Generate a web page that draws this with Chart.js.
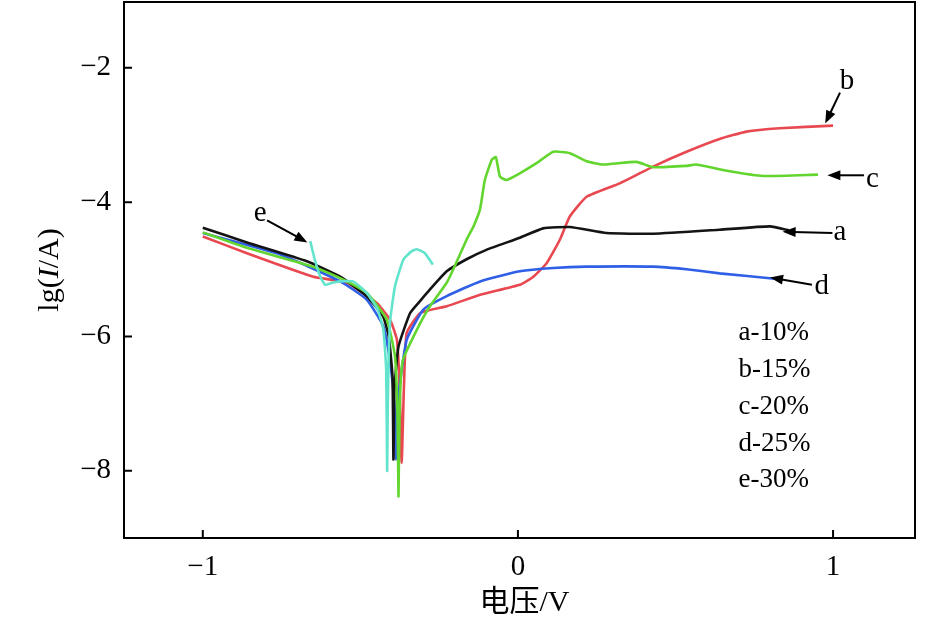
<!DOCTYPE html>
<html>
<head>
<meta charset="utf-8">
<script src="https://cdn.jsdelivr.net/npm/chart.js@4/dist/chart.umd.min.js"></script>
<style>
  html, body { margin: 0; padding: 0; background: #fff; }
  #wrap { width: 945px; height: 627px; position: relative; }
</style>
</head>
<body>
<div id="wrap"><canvas id="c"></canvas></div>
<script>
// tick values
const xTicks = [-1, 0, 1];
const yTicks = [-8, -6, -4, -2];

// a - 10%
const aV = [-1, -0.86, -0.67, -0.564, -0.48, -0.428, -0.41, -0.398, -0.395, -0.392, -0.379, -0.342, -0.31, -0.279, -0.226, -0.163, -0.1, 0.006, 0.08, 0.165, 0.281, 0.43, 0.64, 0.80, 0.86];
const aLg = [-4.38, -4.6, -4.88, -5.11, -5.40, -5.70, -6.0, -6.6, -7.83, -6.8, -6.15, -5.65, -5.47, -5.30, -5.03, -4.85, -4.71, -4.53, -4.39, -4.37, -4.46, -4.47, -4.41, -4.36, -4.42];

// b - 15%
const bV = [-1, -0.86, -0.649, -0.543, -0.448, -0.406, -0.384, -0.375, -0.369, -0.362, -0.353, -0.31, -0.226, -0.12, 0.006, 0.049, 0.091, 0.133, 0.165, 0.218, 0.323, 0.429, 0.535, 0.64, 0.725, 0.83, 1.0];
const bLg = [-4.51, -4.76, -5.11, -5.20, -5.50, -5.75, -6.05, -6.8, -7.88, -6.8, -5.95, -5.65, -5.55, -5.38, -5.23, -5.11, -4.91, -4.56, -4.21, -3.92, -3.72, -3.47, -3.25, -3.06, -2.95, -2.90, -2.86];

// c - 20%
const cV = [-1, -0.86, -0.65, -0.564, -0.48, -0.416, -0.39, -0.382, -0.379, -0.375, -0.365, -0.31, -0.279, -0.226, -0.205, -0.163, -0.14, -0.12, -0.105, -0.083, -0.07, -0.057, -0.036, 0.006, 0.059, 0.112, 0.165, 0.218, 0.27, 0.376, 0.429, 0.535, 0.566, 0.672, 0.778, 0.952];
const cLg = [-4.45, -4.68, -4.96, -5.13, -5.35, -5.75, -6.3, -7.2, -8.38, -7.0, -6.35, -5.8, -5.55, -5.2, -5.0, -4.56, -4.35, -4.1, -3.67, -3.37, -3.33, -3.62, -3.67, -3.57, -3.42, -3.25, -3.27, -3.39, -3.44, -3.40, -3.48, -3.46, -3.44, -3.54, -3.61, -3.59];

// d - 25%
const dV = [-1, -0.754, -0.564, -0.48, -0.427, -0.405, -0.392, -0.387, -0.382, -0.353, -0.3, -0.226, -0.12, 0.006, 0.112, 0.218, 0.429, 0.535, 0.64, 0.815];
const dLg = [-4.46, -4.78, -5.18, -5.45, -5.85, -6.4, -7.0, -7.83, -7.0, -6.05, -5.60, -5.40, -5.18, -5.03, -4.98, -4.96, -4.96, -5.0, -5.06, -5.14];

// e - 30%
const eV = [-0.659, -0.645, -0.628, -0.612, -0.59, -0.564, -0.523, -0.48, -0.445, -0.427, -0.418, -0.415, -0.413, -0.41, -0.405, -0.39, -0.364, -0.34, -0.321, -0.295, -0.27];
const eLg = [-4.58, -4.85, -5.1, -5.23, -5.2, -5.18, -5.18, -5.35, -5.6, -5.9, -6.5, -8.0, -7.0, -6.3, -5.75, -5.25, -4.86, -4.74, -4.70, -4.76, -4.93];

const legendLines = ['a-10%', 'b-15%', 'c-20%', 'd-25%', 'e-30%'];

const pts = (xs, ys) => xs.map((v, i) => ({ x: v, y: ys[i] }));
const minus = v => (v < 0 ? '\u2212' + Math.abs(v) : String(v));
const SERIF = '"Liberation Serif", "Times New Roman", serif';

function line(data, color) {
  return { data, borderColor: color, borderWidth: 2.6, pointRadius: 0, showLine: true, tension: 0.15, fill: false };
}

function arrow(ctx, x1, y1, x2, y2) {
  const ang = Math.atan2(y2 - y1, x2 - x1);
  const hl = 13, hw = 5;
  ctx.beginPath();
  ctx.moveTo(x1, y1);
  ctx.lineTo(x2 - hl * Math.cos(ang) * 0.8, y2 - hl * Math.sin(ang) * 0.8);
  ctx.stroke();
  ctx.beginPath();
  ctx.moveTo(x2, y2);
  ctx.lineTo(x2 - hl * Math.cos(ang) + hw * Math.sin(ang), y2 - hl * Math.sin(ang) - hw * Math.cos(ang));
  ctx.lineTo(x2 - hl * Math.cos(ang) - hw * Math.sin(ang), y2 - hl * Math.sin(ang) + hw * Math.cos(ang));
  ctx.closePath();
  ctx.fill();
}

const decor = {
  id: 'decor',
  afterDraw(chart) {
    const { ctx, chartArea: ca, scales: { x, y } } = chart;
    ctx.save();
    ctx.strokeStyle = '#000';
    ctx.fillStyle = '#000';
    ctx.lineWidth = 2;
    ctx.strokeRect(ca.left, ca.top, ca.right - ca.left, ca.bottom - ca.top);
    // inward ticks
    ctx.beginPath();
    xTicks.forEach(v => { const px = x.getPixelForValue(v); ctx.moveTo(px, ca.bottom); ctx.lineTo(px, ca.bottom - 8); });
    yTicks.forEach(v => { const py = y.getPixelForValue(v); ctx.moveTo(ca.left, py); ctx.lineTo(ca.left + 8, py); });
    ctx.stroke();

    // curve letters + arrows (data coordinates)
    const tags = [
      { t: 'b', at: [1.044, -2.2], from: [1.022, -2.37], to: [0.975, -2.83] },
      { t: 'c', at: [1.125, -3.66], from: [1.098, -3.60], to: [0.982, -3.60] },
      { t: 'a', at: [1.022, -4.45], from: [0.998, -4.46], to: [0.84, -4.44] },
      { t: 'd', at: [0.964, -5.25], from: [0.933, -5.23], to: [0.80, -5.12] },
      { t: 'e', at: [-0.818, -4.17], from: [-0.796, -4.27], to: [-0.668, -4.60] }
    ];
    ctx.lineWidth = 2;
    ctx.font = '29px ' + SERIF;
    ctx.textAlign = 'center';
    ctx.textBaseline = 'middle';
    tags.forEach(g => {
      ctx.fillText(g.t, x.getPixelForValue(g.at[0]), y.getPixelForValue(g.at[1]));
      arrow(ctx, x.getPixelForValue(g.from[0]), y.getPixelForValue(g.from[1]),
        x.getPixelForValue(g.to[0]), y.getPixelForValue(g.to[1]));
    });

    // concentration list
    ctx.font = '27px ' + SERIF;
    ctx.textAlign = 'left';
    legendLines.forEach((s, i) => {
      ctx.fillText(s, x.getPixelForValue(0.7), y.getPixelForValue(-5.95 - i * 0.548));
    });

    // axis titles
    ctx.textAlign = 'center';
    ctx.font = '30px ' + SERIF + ', "Noto Sans CJK SC"';
    ctx.fillText('电压/V', (ca.left + ca.right) / 2 + 5, 603);

    ctx.translate(50, 270);
    ctx.rotate(-Math.PI / 2);
    const parts = [['lg(', ''], ['I', 'italic '], ['/A)', '']];
    let w = 0;
    parts.forEach(p => { ctx.font = p[1] + '30px ' + SERIF; w += ctx.measureText(p[0]).width; });
    let cx = -w / 2;
    ctx.textAlign = 'left';
    parts.forEach(p => {
      ctx.font = p[1] + '30px ' + SERIF;
      ctx.fillText(p[0], cx, 0);
      cx += ctx.measureText(p[0]).width;
    });
    ctx.restore();
  }
};

new Chart(document.getElementById('c'), {
  type: 'scatter',
  data: {
    datasets: [
      line(pts(eV, eLg), '#62e4cc'),
      line(pts(cV, cLg), '#62d62e'),
      line(pts(aV, aLg), '#141414'),
      line(pts(dV, dLg), '#2f5fe6'),
      line(pts(bV, bLg), '#e8484f')
    ]
  },
  options: {
    responsive: true,
    maintainAspectRatio: false,
    animation: false,
    layout: { padding: { top: 2, right: 30, left: 0, bottom: 0 } },
    plugins: { legend: { display: false }, tooltip: { enabled: false } },
    scales: {
      x: {
        type: 'linear', min: -1.25, max: 1.26,
        afterBuildTicks: s => { s.ticks = xTicks.map(v => ({ value: v })); },
        afterFit: s => { s.height = 89; s.paddingLeft = 0; s.paddingRight = 0; },
        grid: { display: false, drawTicks: false },
        border: { display: false },
        ticks: { color: '#000', padding: 12, maxRotation: 0, font: { family: SERIF, size: 29 }, callback: v => minus(v) }
      },
      y: {
        type: 'linear', min: -9, max: -1.02,
        afterBuildTicks: s => { s.ticks = yTicks.map(v => ({ value: v })); },
        afterFit: s => { s.width = 124; s.paddingTop = 0; s.paddingBottom = 0; },
        grid: { display: false, drawTicks: false },
        border: { display: false },
        ticks: { color: '#000', padding: 13, font: { family: SERIF, size: 29 }, callback: v => minus(v) }
      }
    }
  },
  plugins: [decor]
});
</script>
</body>
</html>
